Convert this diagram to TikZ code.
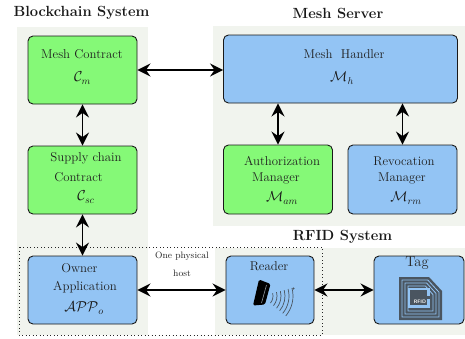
\documentclass[tikz,border=0pt]{standalone}
\usetikzlibrary{arrows.meta,calc}
\definecolor{panelc}{HTML}{F1F4EE}
\definecolor{greenc}{HTML}{85F977}
\definecolor{bluec}{HTML}{93C4F4}
\definecolor{iconc}{HTML}{4A5560}
\tikzset{
  x=1pt,y=-1pt,
  panel/.style={fill=panelc,draw=none},
  boxg/.style={draw=black!90,line width=0.9pt,rounded corners=5pt,fill=greenc},
  boxb/.style={draw=black!90,line width=0.9pt,rounded corners=5pt,fill=bluec},
  title/.style={inner sep=0pt,font=\fontsize{14.7}{16}\selectfont\bfseries,text=black!90},
  lab/.style={inner sep=0pt,font=\fontsize{12.8}{14}\selectfont,text=black!88},
  lbig/.style={inner sep=0pt,font=\fontsize{14}{16}\selectfont,text=black!90},
  small/.style={inner sep=0pt,font=\fontsize{9.3}{11}\selectfont,text=black!85},
  conn/.style={line width=1.8pt,{Stealth[length=13pt,width=13pt,inset=4.5pt]}-{Stealth[length=13pt,width=13pt,inset=4.5pt]}},
  wave/.style={draw=iconc,line width=0.7pt},
}
\begin{document}
\begin{tikzpicture}
\useasboundingbox (0,0) rectangle (465,338);
\fill[white] (0,0) rectangle (465,338);
% panels
\fill[panel] (17,27) rectangle (148,335);
\fill[panel] (213,26) rectangle (465,226);
\fill[panel] (215,248) rectangle (465,335);
% boxes
\node[boxg,minimum width=109pt,minimum height=68pt,inner sep=0pt] (mc) at (82.5,70) {};
\node[boxg,minimum width=109pt,minimum height=68pt,inner sep=0pt] (sc) at (82.5,180) {};
\node[boxb,minimum width=109pt,minimum height=68pt,inner sep=0pt] (oa) at (82.5,290) {};
\node[boxb,minimum width=234pt,minimum height=68pt,inner sep=0pt] (mh) at (340.5,69) {};
\node[boxg,minimum width=109pt,minimum height=69pt,inner sep=0pt] (am) at (278,179.5) {};
\node[boxb,minimum width=109pt,minimum height=69pt,inner sep=0pt] (rm) at (402.5,179.5) {};
\node[boxb,minimum width=88pt,minimum height=68pt,inner sep=0pt] (rd) at (270,290) {};
\node[boxb,minimum width=90pt,minimum height=68pt,inner sep=0pt] (tg) at (419,290) {};
% dotted host
\draw[line width=0.9pt,dash pattern=on 0.9pt off 2.6pt,black!85] (19,247) rectangle (322,335);
% titles
\node[title] (t1) at (81.5,12.5) {Blockchain System};
\node[title] (t2) at (338,13.5) {Mesh Server};
\node[title] (t3) at (342.5,236.5) {RFID System};
% labels
\node[lab] (a1) at (82,54) {Mesh Contract};
\node[lbig] (a2) at (82.5,78) {$\mathcal{C}_m$};
\node[lab] (b1) at (86,158) {Supply chain};
\node[lab] (b2) at (78.5,177) {Contract};
\node[lbig] (b3) at (86,197) {$\mathcal{C}_{sc}$};
\node[lab] (c1a) at (79.5,268) {Owner};
\node[lab] (c2) at (85,287) {Application};
\node[lbig] (c3) at (84,308) {$\mathcal{APP}_o$};
\node[lab] (d1) at (344,54) {Mesh\ \ Handler};
\node[lbig] (d2) at (342,78) {$\mathcal{M}_h$};
\node[lab] (e1) at (282,161) {Authorization};
\node[lab] (e2) at (276,178) {Manager};
\node[lbig] (e3) at (282,198) {$\mathcal{M}_{am}$};
\node[lab] (f1) at (404,161) {Revocation};
\node[lab] (f2) at (402,178) {Manager};
\node[lbig] (f3) at (406,198) {$\mathcal{M}_{rm}$};
\node[lab] (g1) at (269,266) {Reader};
\node[inner sep=0pt,font=\fontsize{14.5}{16}\selectfont,text=black!85] (g2) at (417,263) {Tag};
\node[small] (h1) at (182,256) {One physical};
\node[small] (h2) at (182,273) {host};
% connectors
\draw[conn] (mc.east) -- (mc.east -| mh.west);
\draw[conn] (mc.south) -- (sc.north);
\draw[conn] (sc.south) -- (oa.north);
\draw[conn] (mh.south -| am.north) -- (am.north);
\draw[conn] (mh.south -| rm.north) -- (rm.north);
\draw[conn] (oa.east) -- (rd.west);
\draw[conn] (rd.east) -- (tg.west);
% reader icon
\foreach \r in {11,15,19,23,27,31}{
  \draw[wave] ($(262,296)+(-15:\r)$) arc[start angle=-15,end angle=40,radius=\r];
}
\fill[iconc] (293.5,288.5) circle (1.1pt);
\fill[black,rounded corners=1.5pt] (259,279.5) -- (270.5,284) -- (265,304.5) -- (253,305.5) -- cycle;
\draw[iconc!60!white,line width=0.6pt] (266.5,285) -- (261.5,303);
% tag icon
\fill[iconc] (399,277) -- (429,277) -- (442,291) -- (442,320) -- (399,320) -- cycle;
\foreach \d in {3,6,9}{
  \draw[bluec,line width=0.8pt] (399+\d,277+\d) -- (429-\d*0.4,277+\d) -- (442-\d,291+\d*0.4) -- (442-\d,320-\d) -- (399+\d,320-\d) -- cycle;
}
\fill[bluec] (407.5,287.5) rectangle (430,308);
\fill[iconc] (410,290) rectangle (427,305);
\fill[iconc] (427,296) rectangle (432,299);
\node[inner sep=0pt,text=white,font=\fontsize{5}{5}\selectfont\sffamily\bfseries] (rf) at (420,301.5) {RFID};
\end{tikzpicture}
\end{document}
